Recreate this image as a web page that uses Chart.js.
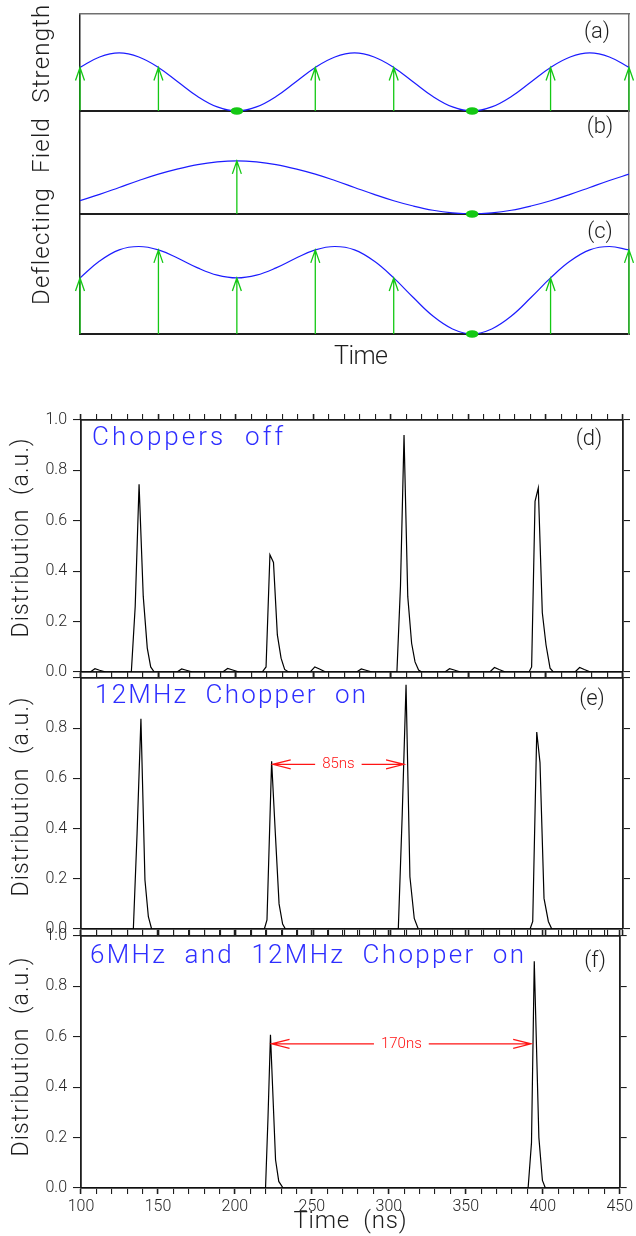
<!DOCTYPE html>
<html>
<head>
<meta charset="utf-8">
<script src="https://cdn.jsdelivr.net/npm/chart.js@4.4.1/dist/chart.umd.min.js"></script>
<style>
    html, body { margin: 0; padding: 0; background: #fff; }
    #page { position: relative; width: 636px; height: 1236px; overflow: hidden; }
    #page canvas { position: absolute; left: 0; top: 0; }
</style>
</head>
<body>
<div id="page">
    <canvas id="panelA" width="636" height="1236"></canvas>
    <canvas id="panelB" width="636" height="1236"></canvas>
    <canvas id="panelC" width="636" height="1236"></canvas>
    <canvas id="panelD" width="636" height="1236"></canvas>
    <canvas id="panelE" width="636" height="1236"></canvas>
    <canvas id="panelF" width="636" height="1236"></canvas>
</div>
<script>
// ---- schematic (a)-(c): time in units of the 12 MHz bunch spacing ----
const phaseTime = [0, 0.25, 0.5, 0.75, 1, 1.25, 1.5, 1.75, 2, 2.25, 2.5, 2.75, 3, 3.25, 3.5,
    3.75, 4, 4.25, 4.5, 4.75, 5, 5.25, 5.5, 5.75, 6, 6.25, 6.5, 6.75, 7];
const field12 = [0.75, 0.93, 1, 0.93, 0.75, 0.5, 0.25, 0.07, 0, 0.07, 0.25, 0.5, 0.75, 0.93, 1,
    0.93, 0.75, 0.5, 0.25, 0.07, 0, 0.07, 0.25, 0.5, 0.75, 0.93, 1, 0.93, 0.75];
const field6 = [0.25, 0.37, 0.5, 0.63, 0.75, 0.85, 0.93, 0.98, 1, 0.98, 0.93, 0.85, 0.75, 0.63, 0.5,
    0.37, 0.25, 0.15, 0.07, 0.02, 0, 0.02, 0.07, 0.15, 0.25, 0.37, 0.5, 0.63, 0.75];
const fieldBoth = [1.0, 1.30, 1.5, 1.56, 1.5, 1.35, 1.18, 1.05, 1.0, 1.05, 1.18, 1.35, 1.5, 1.56, 1.5,
    1.30, 1.0, 0.65, 0.32, 0.09, 0, 0.09, 0.32, 0.65, 1.0, 1.30, 1.5, 1.56, 1.5];
const arrowsA = [0, 1, 3, 4, 6, 7];
const nullsA = [2, 5];
const arrowsB = [2];
const nullsB = [5];
const arrowsC = [0, 1, 2, 3, 4, 6, 7];
const nullsC = [5];

// ---- measured distributions (d)-(f) ----
const timeTicks = [100, 150, 200, 250, 300, 350, 400, 450];
const distTicks = [0, 0.2, 0.4, 0.6, 0.8, 1.0];

const timeOff = [100, 106, 109, 112, 116, 132.5, 135, 137.5, 140.2, 142.8, 145, 147.3,
    162, 165, 168, 172, 191.5, 194.7, 198, 202,
    217, 219.5, 222, 224.3, 226.8, 229.2, 231.5, 234, 248, 251, 254, 258, 278, 281, 284, 288,
    304, 306.3, 308.6, 311, 313.5, 315.7, 318, 320, 335, 338, 341, 345, 364, 367, 370, 374,
    389.3, 391, 393.2, 395.3, 397.9, 400.3, 402.9, 405, 419, 422, 425, 429, 450];
const distOff = [0, 0, 0.013, 0.007, 0, 0, 0.26, 0.745, 0.30, 0.095, 0.02, 0,
    0, 0.012, 0.007, 0, 0, 0.014, 0.008, 0,
    0, 0.02, 0.465, 0.435, 0.147, 0.055, 0.01, 0, 0, 0.02, 0.012, 0, 0, 0.012, 0.007, 0,
    0, 0.34, 0.94, 0.30, 0.114, 0.04, 0.008, 0, 0, 0.013, 0.008, 0, 0, 0.018, 0.01, 0,
    0, 0.02, 0.677, 0.73, 0.235, 0.107, 0.015, 0, 0, 0.018, 0.01, 0, 0];

const time12 = [100, 133.8, 136.2, 138.7, 141.3, 143.5, 145.6, 218.4, 220.1, 223.1, 225.5, 227.9, 230.2, 232,
    304.9, 307.4, 309.9, 312.4, 315.2, 317.8, 390, 391.7, 394.3, 396.4, 399, 401.8, 404, 450];
const dist12 = [0, 0, 0.38, 0.838, 0.195, 0.049, 0, 0, 0.036, 0.668, 0.38, 0.10, 0.02, 0,
    0, 0.45, 0.973, 0.208, 0.042, 0, 0, 0.03, 0.785, 0.663, 0.122, 0.03, 0, 0];

const time6and12 = [100, 219.9, 221.5, 223.1, 226.4, 228.5, 231.3, 390.5, 392.7, 394.5, 397.5, 399.8, 401.7, 450];
const dist6and12 = [0, 0, 0.28, 0.608, 0.112, 0.026, 0, 0, 0.18, 0.90, 0.2, 0.03, 0, 0];

// bunch spacing arrows in (e) and (f)
const gapStart = [223.8, 223.8];
const gapEnd = [308.6, 392.5];
const gapLevel = [0.656, 0.572];
const gapText = ["85ns", "170ns"];

const FONT = "Roboto, 'DejaVu Sans', sans-serif";
const ink = "#1e1e1e";
const frameGray = "#707070";
const curveBlue = "#1c1cff";
const arrowGreen = "#14c814";
const noteRed = "#ff1414";
const labelBlue = "#2e2eff";
const PAGE_W = 636;
const PAGE_H = 1236;

function fixedSize(px) {
    return (scale) => {
        if (scale.isHorizontal()) {
            scale.height = px;
        } else {
            scale.width = px;
        }
    };
}

function drawLabel(ctx, item) {
    ctx.save();
    ctx.font = `${item.weight || 300} ${item.size}px ${FONT}`;
    ctx.fillStyle = item.color || ink;
    ctx.textAlign = "left";
    ctx.textBaseline = item.baseline || "middle";
    const raw = ctx.measureText(item.text).width;
    let spacing = 0;
    if (item.width) {
        spacing = (item.width - raw) / (item.text.length - 1);
    }
    ctx.letterSpacing = spacing + "px";
    const total = raw + spacing * (item.text.length - 1);
    const start = item.align === "left" ? 0 : -total / 2;
    ctx.translate(item.x, item.y);
    if (item.rotate) {
        ctx.rotate(-Math.PI / 2);
    }
    ctx.fillText(item.text, start, 0);
    ctx.restore();
}

function textPlugin(items) {
    return {
        id: "pageText",
        afterDraw(chart) {
            items.forEach((item) => drawLabel(chart.ctx, item));
        }
    };
}

function fieldMarks(arrowTimes, nullTimes) {
    return {
        id: "fieldMarks",
        afterDatasetsDraw(chart) {
            const { ctx, scales: { x, y } } = chart;
            const points = chart.data.datasets[0].data;
            const base = y.getPixelForValue(0);
            ctx.save();
            ctx.strokeStyle = arrowGreen;
            ctx.lineWidth = 1.3;
            arrowTimes.forEach((t) => {
                const point = points.find((p) => p.x === t);
                const px = x.getPixelForValue(t);
                const tip = y.getPixelForValue(point.y);
                ctx.beginPath();
                ctx.moveTo(px, base);
                ctx.lineTo(px, tip);
                ctx.moveTo(px - 4.5, tip + 13);
                ctx.lineTo(px, tip);
                ctx.lineTo(px + 4.5, tip + 13);
                ctx.stroke();
            });
            ctx.fillStyle = arrowGreen;
            nullTimes.forEach((t) => {
                ctx.beginPath();
                ctx.ellipse(x.getPixelForValue(t), base, 6.3, 3.8, 0, 0, Math.PI * 2);
                ctx.fill();
            });
            ctx.restore();
        }
    };
}

function gapMarks(index) {
    return {
        id: "gapMarks",
        afterDatasetsDraw(chart) {
            const { ctx, scales: { x, y } } = chart;
            const x1 = x.getPixelForValue(gapStart[index]);
            const x2 = x.getPixelForValue(gapEnd[index]);
            const level = y.getPixelForValue(gapLevel[index]);
            ctx.save();
            ctx.font = `300 15px ${FONT}`;
            ctx.strokeStyle = noteRed;
            ctx.fillStyle = noteRed;
            ctx.lineWidth = 1.2;
            const mid = (x1 + x2) / 2;
            const half = ctx.measureText(gapText[index]).width / 2;
            ctx.beginPath();
            ctx.moveTo(x1, level);
            ctx.lineTo(mid - half - 7, level);
            ctx.moveTo(mid + half + 7, level);
            ctx.lineTo(x2, level);
            ctx.moveTo(x1 + 18, level - 4.5);
            ctx.lineTo(x1, level);
            ctx.lineTo(x1 + 18, level + 4.5);
            ctx.moveTo(x2 - 18, level - 4.5);
            ctx.lineTo(x2, level);
            ctx.lineTo(x2 - 18, level + 4.5);
            ctx.stroke();
            ctx.textAlign = "center";
            ctx.textBaseline = "middle";
            ctx.fillText(gapText[index], mid, level);
            ctx.restore();
        }
    };
}

function hiddenAxis(position, min, max, borderColor, borderWidth, size) {
    return {
        type: "linear",
        position,
        min,
        max,
        grid: { display: false },
        ticks: { display: false },
        border: { display: true, color: borderColor, width: borderWidth },
        afterFit: fixedSize(size)
    };
}

function schematicChart(canvasId, values, yMax, box, arrowTimes, nullTimes, withTopFrame, labels) {
    const scales = {
        x: hiddenAxis("bottom", 0, 7, ink, 2, 10),
        y: hiddenAxis("left", 0, yMax, ink, 1.5, 10),
        yRight: hiddenAxis("right", 0, yMax, frameGray, 1.5, 4)
    };
    if (withTopFrame) {
        scales.xTop = hiddenAxis("top", 0, 7, frameGray, 1.5, 10);
    }

    return new Chart(document.getElementById(canvasId).getContext("2d"), {
        type: "line",
        data: {
            datasets: [{
                data: phaseTime.map((t, i) => ({ x: t, y: values[i] })),
                borderColor: curveBlue,
                borderWidth: 1.2,
                pointRadius: 0,
                tension: 0.4,
                fill: false
            }]
        },
        options: {
            responsive: false,
            animation: false,
            devicePixelRatio: 1,
            events: [],
            layout: {
                padding: {
                    left: 80 - 10,
                    right: PAGE_W - 629 - 4,
                    top: box.top - (withTopFrame ? 10 : 0),
                    bottom: PAGE_H - box.bottom - 10
                }
            },
            plugins: { legend: { display: false }, tooltip: { enabled: false } },
            scales
        },
        plugins: [fieldMarks(arrowTimes, nullTimes), textPlugin(labels)]
    });
}

function tickAxis(position, withLabels, labelFn, tickLength, size, isTime) {
    return {
        type: "linear",
        position,
        min: isTime ? 100 : 0,
        max: isTime ? 450 : 1,
        grid: {
            display: true,
            drawOnChartArea: false,
            drawTicks: true,
            tickLength,
            color: ink,
            lineWidth: 1.1,
            tickWidth: (ctx) => (isTime && ctx.tick && ctx.tick.value % 50 === 0 ? 1.6 : 1.1)
        },
        border: { display: true, color: ink, width: 1.8 },
        ticks: {
            stepSize: isTime ? 10 : 0.2,
            autoSkip: false,
            maxRotation: 0,
            padding: isTime ? 3 : 6,
            color: ink,
            font: { family: FONT, size: 16, weight: 300 },
            callback: (value) => (withLabels ? labelFn(value) : "")
        },
        afterFit: fixedSize(size)
    };
}

function timeLabel(value) {
    return timeTicks.includes(value) ? String(value) : "";
}

function profileChart(canvasId, times, values, box, opts) {
    const distLabel = (value) => {
        const v = Number(value.toFixed(1));
        if (opts.hideTop && v === 1) {
            return "";
        }
        return distTicks.includes(v) ? v.toFixed(1) : "";
    };
    const bottomSize = opts.timeLabels ? 48 : 10;

    const extra = opts.gapIndex === undefined ? [] : [gapMarks(opts.gapIndex)];

    return new Chart(document.getElementById(canvasId).getContext("2d"), {
        type: "line",
        data: {
            datasets: [{
                data: times.map((t, i) => ({ x: t, y: values[i] })),
                borderColor: "#000",
                borderWidth: 1.2,
                pointRadius: 0,
                tension: 0,
                fill: false
            }]
        },
        options: {
            responsive: false,
            animation: false,
            devicePixelRatio: 1,
            events: [],
            layout: {
                padding: {
                    left: 0,
                    right: 0,
                    top: box.top - 10,
                    bottom: PAGE_H - box.bottom - bottomSize
                }
            },
            plugins: { legend: { display: false }, tooltip: { enabled: false } },
            scales: {
                x: tickAxis("bottom", opts.timeLabels, timeLabel, 6, bottomSize, true),
                xTop: tickAxis("top", false, timeLabel, 6, 10, true),
                y: tickAxis("left", true, distLabel, 8, 81, false),
                yRight: tickAxis("right", false, distLabel, 7, 13, false)
            }
        },
        plugins: extra.concat([textPlugin(opts.labels)])
    });
}

schematicChart("panelA", field12, 1.67, { top: 14, bottom: 111 }, arrowsA, nullsA, true, [
    { text: "(a)", x: 597, y: 32, size: 22 }
]);

schematicChart("panelB", field6, 1.94, { top: 111, bottom: 214 }, arrowsB, nullsB, false, [
    { text: "(b)", x: 600, y: 127, size: 22 },
    { text: "Deflecting  Field  Strength", x: 43, y: 155, size: 24, width: 300, rotate: true }
]);

schematicChart("panelC", fieldBoth, 2.14, { top: 214, bottom: 334 }, arrowsC, nullsC, false, [
    { text: "(c)", x: 600, y: 232, size: 22 },
    { text: "Time", x: 361, y: 358, size: 25, width: 54 }
]);

profileChart("panelD", timeOff, distOff, { top: 420, bottom: 672 }, {
    timeLabels: false,
    hideTop: false,
    labels: [
        { text: "Choppers  off", x: 92, y: 445, size: 26, width: 191, align: "left", baseline: "alphabetic", color: labelBlue },
        { text: "(d)", x: 589, y: 439, size: 22 },
        { text: "Distribution  (a.u.)", x: 22, y: 538, size: 23, width: 199, rotate: true }
    ]
});

profileChart("panelE", time12, dist12, { top: 678, bottom: 929 }, {
    timeLabels: false,
    hideTop: true,
    gapIndex: 0,
    labels: [
        { text: "12MHz  Chopper  on", x: 95, y: 703, size: 26, width: 271, align: "left", baseline: "alphabetic", color: labelBlue },
        { text: "(e)", x: 592, y: 699, size: 22 },
        { text: "Distribution  (a.u.)", x: 22, y: 797, size: 23, width: 199, rotate: true }
    ]
});

profileChart("panelF", time6and12, dist6and12, { top: 936, bottom: 1188 }, {
    timeLabels: true,
    hideTop: false,
    gapIndex: 1,
    labels: [
        { text: "6MHz  and  12MHz  Chopper  on", x: 90, y: 963, size: 26, width: 434, align: "left", baseline: "alphabetic", color: labelBlue },
        { text: "(f)", x: 595, y: 961, size: 22 },
        { text: "Distribution  (a.u.)", x: 22, y: 1057, size: 23, width: 199, rotate: true },
        { text: "Time  (ns)", x: 350, y: 1222, size: 24, width: 113 }
    ]
});
</script>
</body>
</html>
